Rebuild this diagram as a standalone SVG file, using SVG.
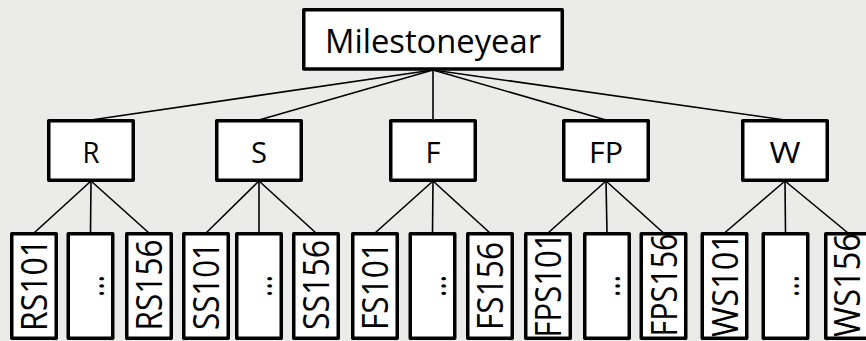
<svg xmlns="http://www.w3.org/2000/svg" width="866" height="341" viewBox="0 0 866 341">
<style>
.box{fill:#fff;stroke:#000;stroke-width:3.5;stroke-linejoin:round}
.ln{stroke:#000;stroke-width:1.6;fill:none}
text{font-family:"Open Sans",Lato,"Liberation Sans",sans-serif;fill:#000}
.top{font-size:33.5px}
.mid{font-size:29.5px}
.leaf{font-size:37px}
</style>
<rect width="866" height="341" fill="#EBEBEA"/>
<g id="connectors">
<line class="ln" x1="433" y1="70" x2="91" y2="120"/>
<line class="ln" x1="433" y1="70" x2="259" y2="120"/>
<line class="ln" x1="433" y1="70" x2="433" y2="120"/>
<line class="ln" x1="433" y1="70" x2="606" y2="120"/>
<line class="ln" x1="433" y1="70" x2="785" y2="120"/>
<line class="ln" x1="91" y1="181" x2="34" y2="233"/>
<line class="ln" x1="91" y1="181" x2="90.5" y2="233"/>
<line class="ln" x1="91" y1="181" x2="149" y2="233"/>
<line class="ln" x1="259" y1="181" x2="206" y2="233"/>
<line class="ln" x1="259" y1="181" x2="259" y2="233"/>
<line class="ln" x1="259" y1="181" x2="316" y2="233"/>
<line class="ln" x1="433" y1="181" x2="375" y2="233"/>
<line class="ln" x1="433" y1="181" x2="432.5" y2="233"/>
<line class="ln" x1="433" y1="181" x2="490" y2="233"/>
<line class="ln" x1="606" y1="181" x2="548" y2="233"/>
<line class="ln" x1="606" y1="181" x2="607" y2="233"/>
<line class="ln" x1="606" y1="181" x2="663.5" y2="233"/>
<line class="ln" x1="785" y1="181" x2="724.5" y2="233"/>
<line class="ln" x1="785" y1="181" x2="785.5" y2="233"/>
<line class="ln" x1="785" y1="181" x2="848" y2="233"/>
</g>
<g id="milestoneyear">
<rect class="box" x="303.75" y="9.75" width="258.5" height="59.25"/>
<text class="top" x="433" y="53.3" text-anchor="middle" textLength="216" lengthAdjust="spacingAndGlyphs">Milestoneyear</text>
</g>
<g id="R"><rect class="box" x="48.75" y="120.75" width="84.5" height="59.5"/><text class="mid" x="91" y="163" text-anchor="middle" textLength="17" lengthAdjust="spacingAndGlyphs">R</text></g>
<g id="S"><rect class="box" x="216.75" y="120.75" width="84.5" height="59.5"/><text class="mid" x="259" y="163" text-anchor="middle" textLength="16" lengthAdjust="spacingAndGlyphs">S</text></g>
<g id="F"><rect class="box" x="390.75" y="120.75" width="84.5" height="59.5"/><text class="mid" x="433" y="163" text-anchor="middle" textLength="15" lengthAdjust="spacingAndGlyphs">F</text></g>
<g id="FP"><rect class="box" x="563.75" y="120.75" width="84.5" height="59.5"/><text class="mid" x="606" y="163" text-anchor="middle" textLength="34" lengthAdjust="spacingAndGlyphs">FP</text></g>
<g id="W"><rect class="box" x="742.75" y="120.75" width="84.5" height="59.5"/><text class="mid" x="785" y="163" text-anchor="middle" textLength="31" lengthAdjust="spacingAndGlyphs">W</text></g>

<g id="RS101"><rect class="box" x="11.75" y="233.75" width="44.5" height="104.5"/><text class="leaf" transform="translate(47,285) rotate(-90)" text-anchor="middle" textLength="92" lengthAdjust="spacingAndGlyphs">RS101</text></g>
<g id="R-dots"><rect class="box" x="68.25" y="233.75" width="44.5" height="104.5"/><text class="leaf" transform="translate(103.5,286) rotate(-90)" text-anchor="middle" textLength="22" lengthAdjust="spacingAndGlyphs">…</text></g>
<g id="RS156"><rect class="box" x="126.75" y="233.75" width="44.5" height="104.5"/><text class="leaf" transform="translate(162,285) rotate(-90)" text-anchor="middle" textLength="91" lengthAdjust="spacingAndGlyphs">RS156</text></g>

<g id="SS101"><rect class="box" x="183.75" y="233.75" width="44.5" height="104.5"/><text class="leaf" transform="translate(219,286) rotate(-90)" text-anchor="middle" textLength="88" lengthAdjust="spacingAndGlyphs">SS101</text></g>
<g id="S-dots"><rect class="box" x="236.75" y="233.75" width="44.5" height="104.5"/><text class="leaf" transform="translate(272,286) rotate(-90)" text-anchor="middle" textLength="22" lengthAdjust="spacingAndGlyphs">…</text></g>
<g id="SS156"><rect class="box" x="293.75" y="233.75" width="44.5" height="104.5"/><text class="leaf" transform="translate(329,285) rotate(-90)" text-anchor="middle" textLength="90" lengthAdjust="spacingAndGlyphs">SS156</text></g>

<g id="FS101"><rect class="box" x="352.75" y="233.75" width="44.5" height="104.5"/><text class="leaf" transform="translate(388,286) rotate(-90)" text-anchor="middle" textLength="88" lengthAdjust="spacingAndGlyphs">FS101</text></g>
<g id="F-dots"><rect class="box" x="410.25" y="233.75" width="44.5" height="104.5"/><text class="leaf" transform="translate(445.5,286) rotate(-90)" text-anchor="middle" textLength="22" lengthAdjust="spacingAndGlyphs">…</text></g>
<g id="FS156"><rect class="box" x="467.75" y="233.75" width="44.5" height="104.5"/><text class="leaf" transform="translate(503,286) rotate(-90)" text-anchor="middle" textLength="88" lengthAdjust="spacingAndGlyphs">FS156</text></g>

<g id="FPS101"><rect class="box" x="525.75" y="233.75" width="44.5" height="104.5"/><text class="leaf" transform="translate(561,285) rotate(-90)" text-anchor="middle" textLength="105" lengthAdjust="spacingAndGlyphs">FPS101</text></g>
<g id="FP-dots"><rect class="box" x="584.75" y="233.75" width="44.5" height="104.5"/><text class="leaf" transform="translate(620,286) rotate(-90)" text-anchor="middle" textLength="22" lengthAdjust="spacingAndGlyphs">…</text></g>
<g id="FPS156"><rect class="box" x="641.25" y="233.75" width="44.5" height="104.5"/><text class="leaf" transform="translate(676.5,285) rotate(-90)" text-anchor="middle" textLength="103" lengthAdjust="spacingAndGlyphs">FPS156</text></g>

<g id="WS101"><rect class="box" x="702.25" y="233.75" width="44.5" height="104.5"/><text class="leaf" transform="translate(737.5,285) rotate(-90)" text-anchor="middle" textLength="104" lengthAdjust="spacingAndGlyphs">WS101</text></g>
<g id="W-dots"><rect class="box" x="763.25" y="233.75" width="44.5" height="104.5"/><text class="leaf" transform="translate(798.5,286) rotate(-90)" text-anchor="middle" textLength="22" lengthAdjust="spacingAndGlyphs">…</text></g>
<g id="WS156"><rect class="box" x="825.75" y="233.75" width="44.5" height="104.5"/><text class="leaf" transform="translate(860,285) rotate(-90)" text-anchor="middle" textLength="104" lengthAdjust="spacingAndGlyphs">WS156</text></g>
</svg>
